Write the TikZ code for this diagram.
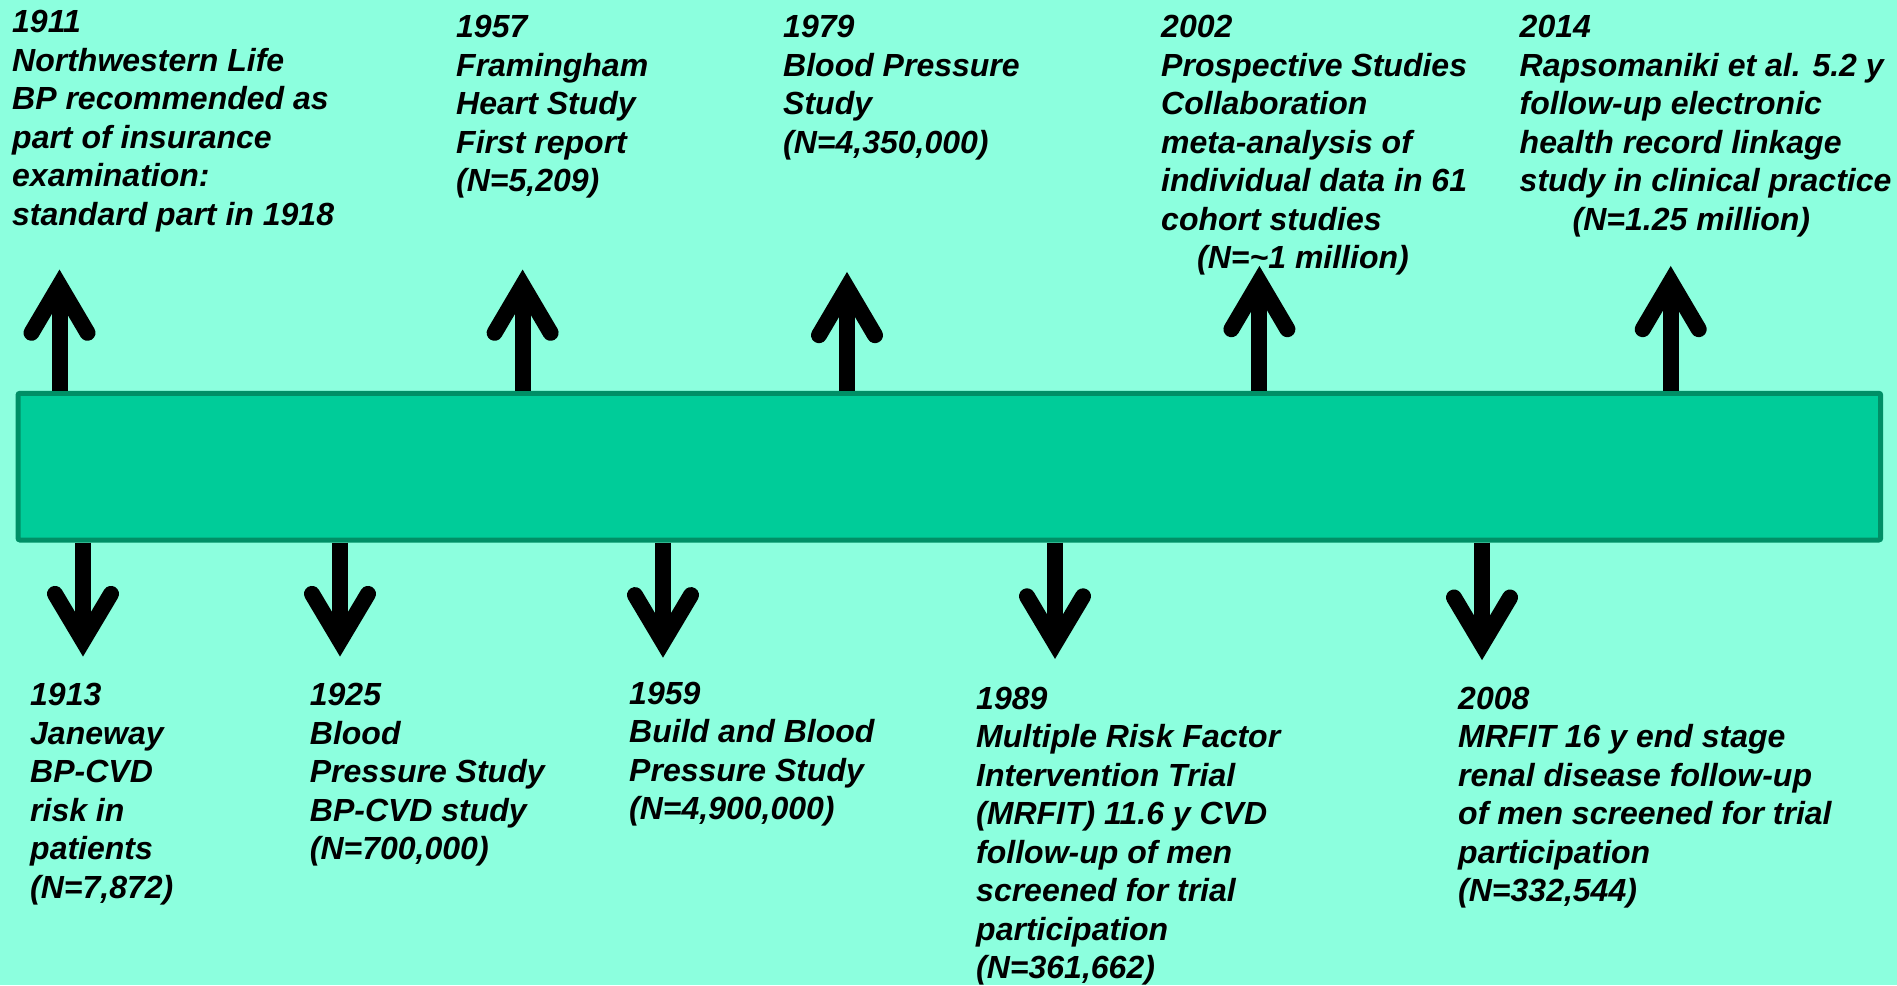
\documentclass[tikz,border=0pt]{standalone}
\usepackage{fontspec}
\setmainfont{Liberation Sans}
\definecolor{bgc}{RGB}{140,255,222}
\definecolor{barfill}{RGB}{0,204,153}
\definecolor{barline}{RGB}{0,143,102}
\begin{document}
\begin{tikzpicture}[x=1pt,y=-1pt,
  evt/.style={anchor=north west, inner sep=0pt, align=left, font=\fontsize{32}{38.5}\selectfont\bfseries\itshape},
  shaft/.style={line width=16pt, black},
  headline/.style={line width=16pt, line cap=round, line join=miter, miter limit=10, black},
  barbox/.style={draw=barline, fill=barfill, line width=5pt, inner sep=0pt, anchor=north west,
    rounded corners=2pt, minimum width=1862.7pt, minimum height=146.7pt}]
\fill[bgc] (0,0) rectangle (1897,985);
\useasboundingbox (0,0) rectangle (1897,985);
\node[barbox] (bar) at (15.5,390.8) {};
% up arrow tips (centre line)
\coordinate (u1) at (59.5,285.3);
\coordinate (u2) at (522.6,285.3);
\coordinate (u3) at (847,287.7);
\coordinate (u4) at (1259.4,281.7);
\coordinate (u5) at (1670.7,281.7);
% down arrow tips (centre line)
\coordinate (d1) at (83,640.9);
\coordinate (d2) at (340,640.9);
\coordinate (d3) at (663,642.1);
\coordinate (d4) at (1055,643.3);
\coordinate (d5) at (1482,644.5);
\foreach \u in {u1,u2,u3,u4,u5}{
  \draw[shaft] (bar.north -| \u) -- (\u);
  \draw[headline] (\u) ++(-28,47.5) -- (\u) -- ++(28,47.5);
}
\foreach \d in {d1,d2,d3,d4,d5}{
  \draw[shaft] (bar.south -| \d) -- (\d);
  \draw[headline] (\d) ++(-28,-47) -- (\d) -- ++(28,-47);
}
% texts above
\node[evt] (t1911) at (12,10.4) {1911\\Northwestern Life\\BP recommended as\\part of insurance\\examination:\\standard part in 1918};
\node[evt] (t1957) at (456,15.2) {1957\\Framingham\\Heart Study\\First report\\(N=5,209)};
\node[evt] (t1979) at (783,15.2) {1979\\Blood Pressure\\Study\\(N=4,350,000)};
\node[evt] (t2002) at (1161,15.2) {2002\\Prospective Studies\\Collaboration\\meta-analysis of\\individual data in 61\\cohort studies\\\hspace*{36pt}(N=\textasciitilde1 million)};
\node[evt] (t2014) at (1519.5,15.2) {2014\\Rapsomaniki et al. 5.2 y\\follow-up electronic\\health record linkage\\study in clinical practice\\\hspace*{53pt}(N=1.25 million)};
% texts below
\node[evt] (t1913) at (30,683) {1913\\Janeway\\BP-CVD\\risk in\\patients\\(N=7,872)};
\node[evt] (t1925) at (309.7,683) {1925\\Blood\\Pressure Study\\BP-CVD study\\(N=700,000)};
\node[evt] (t1959) at (629,681.8) {1959\\Build and Blood\\Pressure Study\\(N=4,900,000)};
\node[evt] (t1989) at (976,686.7) {1989\\Multiple Risk Factor\\Intervention Trial\\(MRFIT) 11.6 y CVD\\follow-up of men\\screened for trial\\participation\\(N=361,662)};
\node[evt] (t2008) at (1458,686.7) {2008\\MRFIT 16 y end stage\\renal disease follow-up\\of men screened for trial\\participation\\(N=332,544)};
\end{tikzpicture}
\end{document}
